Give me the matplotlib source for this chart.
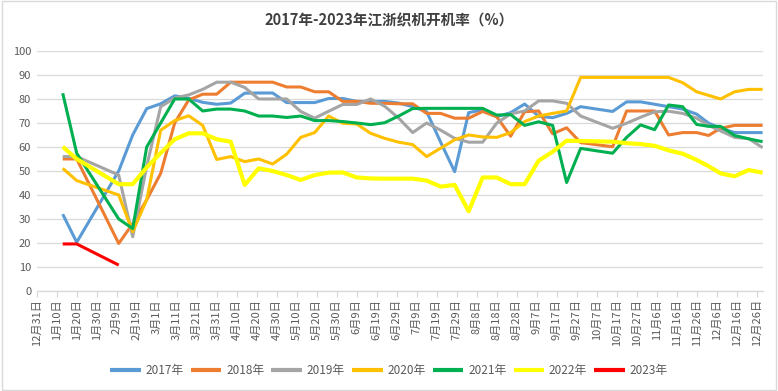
import matplotlib
matplotlib.use("Agg")
import matplotlib.pyplot as plt
from matplotlib.patches import Rectangle

plt.rcParams['font.family'] = ['Noto Sans CJK SC', 'DejaVu Sans']

title = "2017年-2023年江浙织机开机率（%）"

# day offsets counted from 12月31日
days = [13, 20, 41, 48, 55, 62, 69, 76, 83, 90, 97, 104, 111, 118, 125, 132, 139, 146,
        153, 160, 167, 174, 181, 188, 195, 202, 209, 216, 223, 230, 237, 244, 251, 258,
        265, 272, 288, 295, 302, 309, 316, 323, 330, 336, 342, 349, 356, 363]

y2017 = [32, 20.3, 50, 65, 76, 78, 81.3, 80.3, 78.6, 77.8, 78.3, 82.4, 82.5, 82.5, 78.5, 78.5,
         78.5, 80.2, 80.2, 79, 78.9, 79, 78.3, 76.8, 74.7, 62, 49.7, 74.3, 75.5, 72.6, 74.3,
         77.9, 72.8, 72.2, 74, 76.8, 74.8, 78.8, 78.8, 77.8, 76.8, 75.8, 73.7, 69.9, 67.8,
         66, 66, 66]
y2018 = [55, 55, 19.8, 28, 38, 49, 70, 79.6, 82, 82, 87, 87, 87, 87, 85, 85, 83, 83, 79, 79,
         78.2, 78.2, 78, 78, 74, 74, 72, 72, 74.8, 72.6, 64.5, 74.7, 75, 65.5, 68, 61.8, 60.1,
         75, 75, 75, 65, 66, 66, 64.8, 67.8, 69, 69, 69]
y2019 = [56, 56, 48.3, 22.6, 52, 76.8, 80.4, 81.7, 84, 87, 87, 84.8, 80, 80, 80, 74.8, 72,
         74.9, 77.7, 77.7, 80, 77, 72, 66, 70, 67, 63.6, 62, 62, 69.9, 73.8, 75, 79.2, 79.2,
         78.2, 72.9, 67.8, 69.9, 72.4, 74.7, 74.9, 74, 72, 69, 66.7, 64, 63.5, 59.7]
y2020 = [51.1, 46, 40, 24.7, 38, 67, 71, 73, 69, 54.8, 56, 53.9, 55, 52.9, 57, 64, 66, 72.9,
         69.9, 69.6, 65.7, 63.6, 62, 61, 56, 59.5, 63, 65, 64.2, 64, 66, 70.6, 72.9, 74, 75,
         89, 89, 89, 89, 89, 89, 86.8, 83, None, 80, 83, 84, 84]
y2021 = [82.4, 57.4, 30, 26, 60, 70, 80, 80, 75, 75.8, 75.8, 75, 72.9, 72.9, 72.3, 72.9, 71,
         71, 70.6, 70, 69.3, 70.1, 72.9, 76, 76.1, 76.1, 76.1, 76.1, 76.1, 73.3, 73.5, 69,
         70.5, 69, 45.2, 59.4, 57.4, 64, 69.2, 67.2, 77.5, 76.8, 69.4, 68.6, 68.6, 64.8,
         63.4, 62.2]
y2022 = [60.1, 55, 44.5, 44.5, 51.5, 57.5, 63.2, 65.7, 65.7, 63.2, 62.2, 44.2, 51.1, 50,
         48.3, 46.25, 48.3, 49.3, 49.4, 47.3, 46.9, 46.8, 46.8, 46.8, 46, 43.5, 44.2, 33.2,
         47.3, 47.3, 44.5, 44.5, 54.3, 58, 62.6, 62.5, 62.2, 61.6, 61.2, 60.5, 58.6, 57.2,
         54.6, 52, 49, 47.8, 50.4, 49.3]
y2023 = [19.6, 19.6, 10.8] + [None] * 45

series_names = ["2017年", "2018年", "2019年", "2020年", "2021年", "2022年", "2023年"]
series_values = [y2017, y2018, y2019, y2020, y2021, y2022, y2023]
colors = ["#5B9BD5", "#ED7D31", "#A5A5A5", "#FFC000", "#00B050", "#FFFF00", "#FF0000"]
widths = [2.2, 2.2, 2.2, 2.2, 2.2, 3.0, 2.2]

tick_days = list(range(0, 361, 10))
tick_labels = ["12月31日", "1月10日", "1月20日", "1月30日", "2月9日", "2月19日", "3月1日",
               "3月11日", "3月21日", "3月31日", "4月10日", "4月20日", "4月30日", "5月10日",
               "5月20日", "5月30日", "6月9日", "6月19日", "6月29日", "7月9日", "7月19日",
               "7月29日", "8月8日", "8月18日", "8月28日", "9月7日", "9月17日", "9月27日",
               "10月7日", "10月17日", "10月27日", "11月6日", "11月16日", "11月26日",
               "12月6日", "12月16日", "12月26日"]

fig = plt.figure(figsize=(7.78, 3.91), dpi=100)
ax = fig.add_axes([0.0472, 0.2558, 0.933, 0.6138])

for name, vals, c, lw in zip(series_names, series_values, colors, widths):
    xs = [d for d, v in zip(days, vals) if v is not None]
    ys = [v for v in vals if v is not None]
    ax.plot(xs, ys, color=c, lw=lw, label=name, solid_joinstyle='round',
            solid_capstyle='butt')

ax.set_xlim(0, 363)
ax.set_ylim(0, 100)
ax.set_yticks(range(0, 101, 10))
ax.grid(axis='y', color='#D9D9D9', lw=0.9)
ax.set_axisbelow(True)
for s in ['left', 'right', 'top']:
    ax.spines[s].set_visible(False)
ax.spines['bottom'].set_color('#D9D9D9')
ax.spines['bottom'].set_linewidth(0.9)
ax.set_xticks(tick_days)
ax.set_xticklabels(tick_labels, rotation=90, va='top', ha='center')
ax.tick_params(axis='x', colors='#D9D9D9', length=4, width=0.9, labelcolor='#595959',
               labelsize=8, pad=2)
ax.tick_params(axis='y', length=0, labelcolor='#595959', labelsize=8, pad=4)

fig.text(0.5, 0.948, title, ha='center', va='center', fontsize=10.5,
         fontweight='bold', color='#404040')

leg = fig.legend(loc='center', bbox_to_anchor=(0.5, 0.052), ncol=7, frameon=False,
                 fontsize=8.5, handlelength=2.6, columnspacing=0.6, handletextpad=0.4,
                 labelcolor='#595959')
for line in leg.get_lines():
    line.set_linewidth(3)

fig.patches.append(Rectangle((0.002, 0.003), 0.995, 0.994, transform=fig.transFigure,
                             fill=False, edgecolor='#D9D9D9', lw=1))

fig.savefig("out.png", dpi=100)
